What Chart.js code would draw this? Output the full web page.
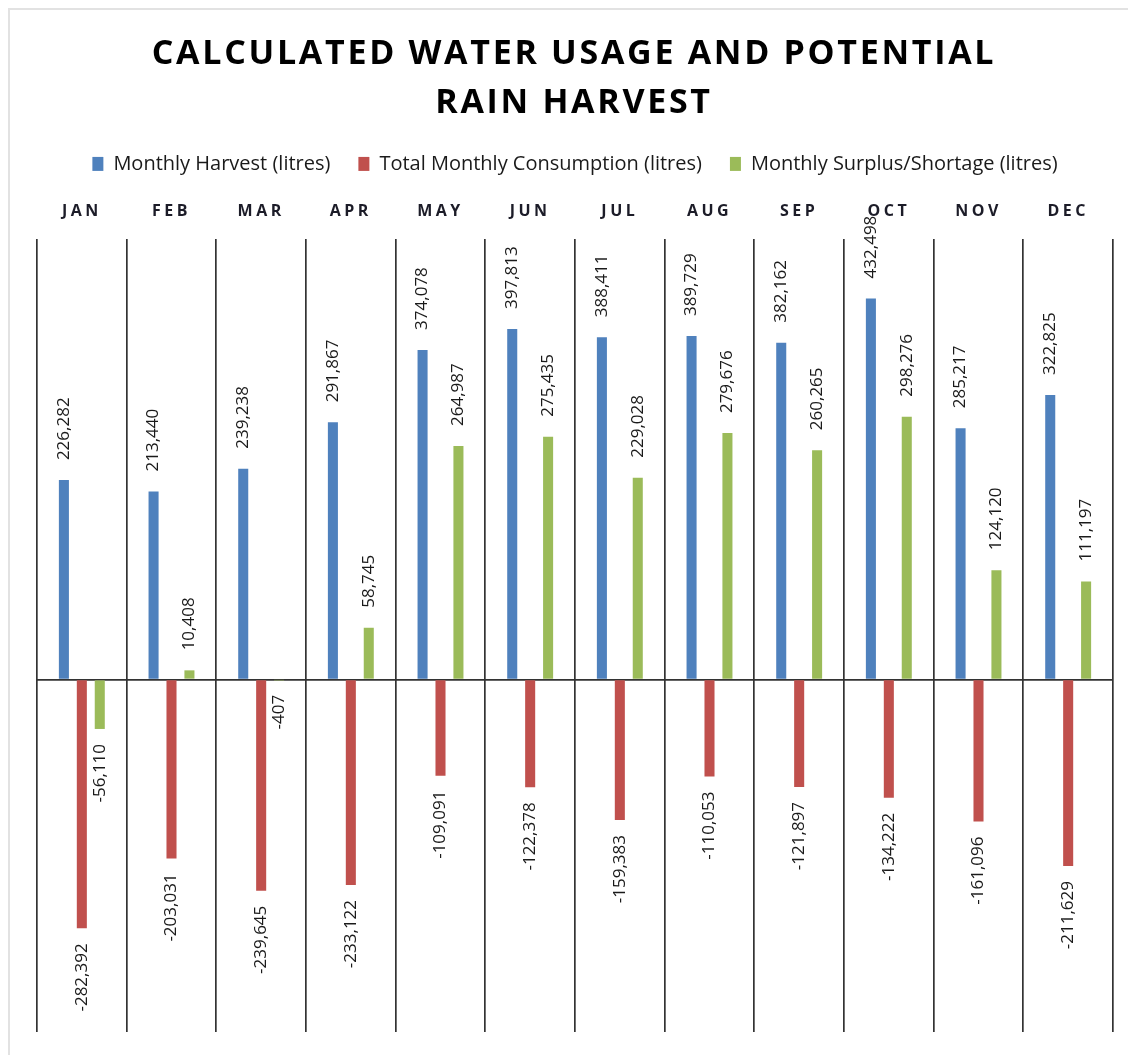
<!DOCTYPE html>
<html>
<head>
<meta charset="utf-8">
<script src="https://cdn.jsdelivr.net/npm/chart.js@4.4.1/dist/chart.umd.min.js"></script>
<style>
  html, body { margin: 0; padding: 0; background: #fff; }
  body { width: 1128px; height: 1055px; position: relative; overflow: hidden; }
  #frame { position: absolute; left: 8px; top: 8px; width: 1300px; height: 1300px;
           border-top: 2px solid #e2e2e2; border-left: 2px solid #e2e2e2; }
  #wrap { position: absolute; left: 0; top: 0; width: 1128px; height: 1055px; }
</style>
</head>
<body>
<div id="frame"></div>
<div id="wrap"><canvas id="chart" width="1128" height="1055"></canvas></div>
<script>
const months = ['JAN', 'FEB', 'MAR', 'APR', 'MAY', 'JUN', 'JUL', 'AUG', 'SEP', 'OCT', 'NOV', 'DEC'];

const monthlyHarvest = [226282, 213440, 239238, 291867, 374078, 397813, 388411, 389729, 382162, 432498, 285217, 322825];
const monthlyConsumption = [-282392, -203031, -239645, -233122, -109091, -122378, -159383, -110053, -121897, -134222, -161096, -211629];
const monthlySurplus = [-56110, 10408, -407, 58745, 264987, 275435, 229028, 279676, 260265, 298276, 124120, 111197];

const seriesNames = ['Monthly Harvest (litres)', 'Total Monthly Consumption (litres)', 'Monthly Surplus/Shortage (litres)'];
const seriesColors = ['#4F81BD', '#C0504D', '#9BBB59'];
const titleLines = ['CALCULATED WATER USAGE AND POTENTIAL', 'RAIN HARVEST'];

const FONT = '"Open Sans", "Liberation Sans", sans-serif';
const TITLE_SIZE = 34;
const TITLE_LH = 1.44;
const TITLE_PAD_TOP = 28;

// Rotated value labels at the end of each bar
const valueLabels = {
  id: 'valueLabels',
  afterDatasetsDraw(chart) {
    const ctx = chart.ctx;
    ctx.save();
    ctx.font = '17px ' + FONT;
    ctx.fillStyle = '#1a1a1a';
    ctx.textBaseline = 'middle';
    chart.data.datasets.forEach((ds, di) => {
      const meta = chart.getDatasetMeta(di);
      meta.data.forEach((bar, i) => {
        const v = ds.data[i];
        const p = bar.getProps(['x', 'y'], true);
        const text = v.toLocaleString('en-US');
        ctx.save();
        if (v >= 0) {
          ctx.translate(p.x, p.y - 20);
          ctx.rotate(-Math.PI / 2);
          ctx.textAlign = 'left';
        } else {
          ctx.translate(p.x, p.y + 15);
          ctx.rotate(-Math.PI / 2);
          ctx.textAlign = 'right';
        }
        ctx.fillText(text, 0, 0);
        ctx.restore();
      });
    });
    ctx.restore();
  }
};

// Letter-spaced title (drawn in the space the title block reserves)
// and letter-spaced month names above each category column
const spacedText = {
  id: 'spacedText',
  afterDraw(chart) {
    const ctx = chart.ctx;
    const tb = chart.titleBlock;
    ctx.save();
    ctx.fillStyle = '#000';
    ctx.textAlign = 'center';
    ctx.textBaseline = 'middle';
    ctx.font = 'bold ' + TITLE_SIZE + 'px ' + FONT;
    if ('letterSpacing' in ctx) ctx.letterSpacing = '2.7px';
    const lh = TITLE_SIZE * TITLE_LH;
    const cx = chart.width / 2 + 10;
    titleLines.forEach((t, i) => {
      ctx.fillText(t, cx, tb.top + TITLE_PAD_TOP + 2 + lh * (i + 0.5));
    });

    const xs = chart.scales.x;
    ctx.font = 'bold 16px ' + FONT;
    ctx.fillStyle = '#1c1c28';
    if ('letterSpacing' in ctx) ctx.letterSpacing = '3.5px';
    months.forEach((m, i) => {
      ctx.fillText(m, xs.getPixelForValue(i), chart.chartArea.top - 27);
    });
    ctx.restore();
  }
};

new Chart(document.getElementById('chart'), {
  type: 'bar',
  data: {
    labels: months,
    datasets: [
      { label: seriesNames[0], data: monthlyHarvest, backgroundColor: seriesColors[0] },
      { label: seriesNames[1], data: monthlyConsumption, backgroundColor: seriesColors[1] },
      { label: seriesNames[2], data: monthlySurplus, backgroundColor: seriesColors[2] }
    ]
  },
  options: {
    responsive: false,
    animation: false,
    devicePixelRatio: 1,
    categoryPercentage: 0.6,
    barPercentage: 0.56,
    layout: { padding: { left: 37, right: 15, top: 0, bottom: 23 } },
    plugins: {
      title: {
        display: true,
        text: titleLines,
        color: 'transparent',
        font: { family: FONT, size: TITLE_SIZE, weight: 'bold', lineHeight: TITLE_LH },
        padding: { top: TITLE_PAD_TOP, bottom: 0 }
      },
      legend: {
        display: true,
        labels: {
          color: '#1a1a1a',
          font: { family: FONT, size: 20 },
          boxWidth: 11,
          boxHeight: 14,
          padding: 28
        }
      },
      tooltip: { enabled: false }
    },
    scales: {
      x: {
        position: 'top',
        offset: true,
        ticks: { color: 'transparent', font: { size: 15 } },
        border: { display: false },
        grid: { offset: true, drawTicks: false, color: '#333', lineWidth: 1.7 },
        afterFit(s) { s.height = 55; }
      },
      y: {
        min: -400000,
        max: 500000,
        ticks: { display: false, stepSize: 100000 },
        border: { display: false },
        grid: {
          drawTicks: false,
          lineWidth: 1.7,
          color: (c) => (c.tick && c.tick.value === 0 ? '#333' : 'transparent')
        },
        afterFit(s) { s.width = 0; }
      }
    }
  },
  plugins: [valueLabels, spacedText]
});
</script>
</body>
</html>
